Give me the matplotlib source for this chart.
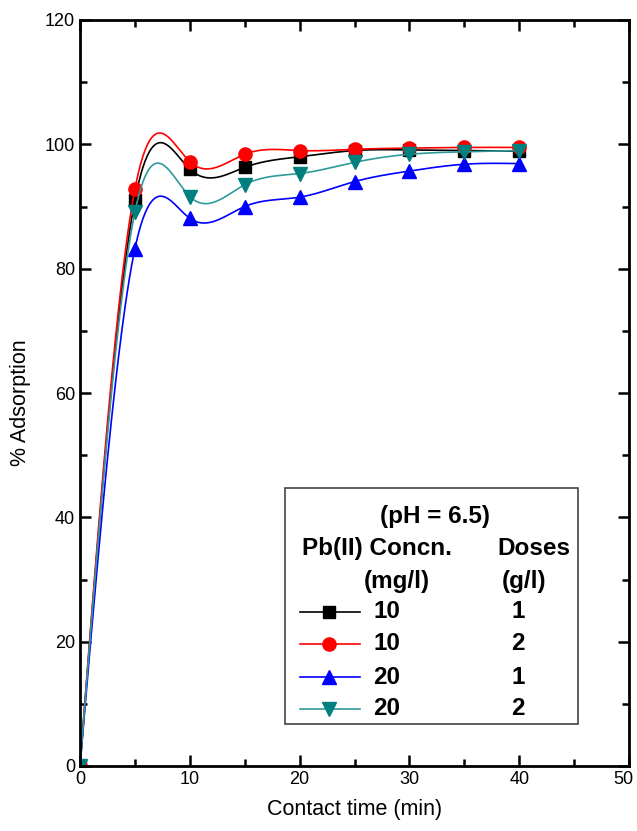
"""
Pb(II) adsorption vs contact time, four conc/dose combinations.
"""

import numpy as np
import matplotlib
matplotlib.use("Agg")
import matplotlib.pyplot as plt
from matplotlib.lines import Line2D
from matplotlib.patches import Rectangle
from matplotlib.transforms import ScaledTranslation

plt.rcParams["font.family"] = ["Liberation Sans", "DejaVu Sans"]

# ─── Data ─────────────────────────────────────────────────────────────────────

time_min = [0, 5, 10, 15, 20, 25, 30, 35, 40]

ads_10_1 = [0, 91.0, 96.0, 96.3, 98.0, 99.0, 99.1, 99.0, 98.9]
ads_10_2 = [0, 92.8, 97.2, 98.4, 99.0, 99.2, 99.4, 99.5, 99.5]
ads_20_1 = [0, 83.2, 88.1, 90.0, 91.5, 94.0, 95.7, 96.8, 96.9]
ads_20_2 = [0, 89.1, 91.6, 93.5, 95.3, 97.1, 98.4, 98.8, 99.0]

conc_labels = ["10", "10", "20", "20"]
dose_labels = ["1", "2", "1", "2"]


def spline_curve(x, y, n=400):
    """Natural cubic spline through the points, for the connecting line only."""
    x = np.asarray(x, float)
    y = np.asarray(y, float)
    k = len(x)
    h = np.diff(x)
    A = np.zeros((k, k))
    b = np.zeros(k)
    A[0, 0] = A[-1, -1] = 1.0
    for i in range(1, k - 1):
        A[i, i - 1] = h[i - 1]
        A[i, i] = 2 * (h[i - 1] + h[i])
        A[i, i + 1] = h[i]
        b[i] = 6 * ((y[i + 1] - y[i]) / h[i] - (y[i] - y[i - 1]) / h[i - 1])
    M = np.linalg.solve(A, b)
    xs = np.linspace(x[0], x[-1], n)
    idx = np.clip(np.searchsorted(x, xs) - 1, 0, k - 2)
    x0, x1 = x[idx], x[idx + 1]
    hh = x1 - x0
    ys = (M[idx] * (x1 - xs) ** 3 / (6 * hh) + M[idx + 1] * (xs - x0) ** 3 / (6 * hh)
          + (y[idx] / hh - M[idx] * hh / 6) * (x1 - xs)
          + (y[idx + 1] / hh - M[idx + 1] * hh / 6) * (xs - x0))
    return xs, ys


series = [
    (ads_10_1, "black", "black", "s", 8.5),
    (ads_10_2, "#ff0000", "#ff0000", "o", 9.5),
    (ads_20_1, "#0000ff", "#0000ff", "^", 10.5),
    (ads_20_2, "#2e9a9a", "#007f7f", "v", 10.5),
]

fig = plt.figure(figsize=(6.37, 8.31), dpi=100)
ax = fig.add_axes([80 / 637, 65 / 831, 549 / 637, 746 / 831])

for vals, lc, mc, mk, ms in series:
    xs, ys = spline_curve(time_min, vals)
    ax.plot(xs, ys, color=lc, linewidth=1.2)
    ax.plot(time_min, vals, linestyle="none", marker=mk, markersize=ms,
            color=mc, markeredgecolor=mc)

ax.set_xlim(0, 50)
ax.set_ylim(0, 120)
ax.set_xticks(np.arange(0, 51, 10))
ax.set_xticks(np.arange(5, 50, 10), minor=True)
ax.set_yticks(np.arange(0, 121, 20))
ax.set_yticks(np.arange(10, 120, 20), minor=True)
ax.tick_params(which="both", direction="in", width=1.8, labelsize=13,
               top=True, right=True)
ax.tick_params(which="major", length=8)
ax.tick_params(which="minor", length=5)
for sp in ax.spines.values():
    sp.set_linewidth(2)

ax.set_xlabel("Contact time (min)", fontsize=15.5, labelpad=8)
ax.set_ylabel("% Adsorption", fontsize=15.5)
ax.yaxis.set_label_coords(-0.089, 0.487)

# keep the last x tick label ("50") inside the canvas
fig.canvas.draw()
last = ax.xaxis.get_major_ticks()[-1].label1
last.set_transform(last.get_transform() + ScaledTranslation(-4 / 72, 0, fig.dpi_scale_trans))

# ─── Legend box ───────────────────────────────────────────────────────────────

ax.add_patch(Rectangle((0.373, 0.056), 0.534, 0.317, transform=ax.transAxes,
                       facecolor="white", edgecolor="#444444", linewidth=1.2,
                       zorder=5))
tkw = dict(transform=ax.transAxes, fontsize=17.5, fontweight="bold",
           va="center", zorder=6)
ax.text(0.647, 0.334, "(pH = 6.5)", ha="center", **tkw)
ax.text(0.404, 0.292, "Pb(II) Concn.", ha="left", **tkw)
ax.text(0.761, 0.292, "Doses", ha="left", **tkw)
ax.text(0.577, 0.247, "(mg/l)", ha="center", **tkw)
ax.text(0.808, 0.247, "(g/l)", ha="center", **tkw)

row_y = [0.207, 0.164, 0.119, 0.077]
for (vals, lc, mc, mk, ms), yy, c, d in zip(series, row_y, conc_labels, dose_labels):
    ax.add_line(Line2D([0.401, 0.510], [yy, yy], transform=ax.transAxes,
                       color=lc, linewidth=1.2, zorder=6))
    ax.add_line(Line2D([0.454], [yy], transform=ax.transAxes, marker=mk,
                       markersize=ms, color=mc, zorder=7))
    ax.text(0.559, yy, c, ha="center", **tkw)
    ax.text(0.798, yy, d, ha="center", **tkw)

fig.savefig("out.png", dpi=100)
